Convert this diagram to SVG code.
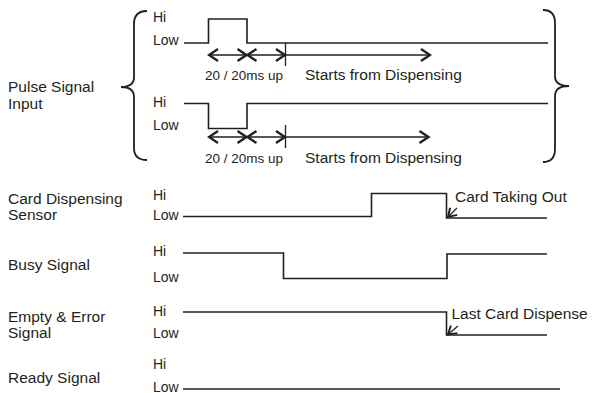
<svg xmlns="http://www.w3.org/2000/svg" width="592" height="393" viewBox="0 0 592 393">
<defs>
<style>
.t{font-family:"Liberation Sans",Arial,Helvetica,sans-serif;font-size:15.5px;fill:#231f20}
.hl{font-family:"Liberation Sans",Arial,Helvetica,sans-serif;font-size:14px;fill:#231f20}
.sm{font-family:"Liberation Sans",Arial,Helvetica,sans-serif;font-size:13.5px;fill:#231f20}
.w{fill:none;stroke:#231f20;stroke-width:1.6}
.br{fill:none;stroke:#231f20;stroke-width:1.8}
.ar{fill:none;stroke:#231f20;stroke-width:1.3}
</style>
<marker id="ah" viewBox="-12 -8 14 16" refX="0" refY="0" markerWidth="14" markerHeight="16" markerUnits="userSpaceOnUse" orient="auto-start-reverse">
<path d="M-9,-6 L0,0 L-9,6" fill="none" stroke="#231f20" stroke-width="2.4"/>
</marker>
<marker id="ahs" viewBox="-10 -7 12 14" refX="0" refY="0" markerWidth="12" markerHeight="14" markerUnits="userSpaceOnUse" orient="auto">
<path d="M-8,-5 L0,0 L-8,5" fill="none" stroke="#231f20" stroke-width="2"/>
</marker>
</defs>
<rect width="592" height="393" fill="#fff"/>

<g id="pulse-input">
<text class="t" x="8" y="92">Pulse Signal</text>
<text class="t" x="8" y="109">Input</text>
<path class="br" d="M147,11 Q134,11 134,24 L134,77 Q134,87 121,87 Q134,87 134,97 L134,148 Q134,160 147,160"/>
<path class="br" d="M543,10 Q555,10 555,23 L555,76 Q555,86 569,86 Q555,86 555,96 L555,149 Q555,162 543,162"/>
</g>

<g id="pulse-1">
<text class="hl" x="153" y="22">Hi</text>
<text class="hl" x="153" y="45">Low</text>
<path class="w" d="M184,43 H208.5 V19 H247 V43 H548"/>
<text class="sm" x="205" y="80">20 / 20ms up</text>
<text class="t" x="305" y="80">Starts from Dispensing</text>
</g>

<g id="pulse-2">
<text class="hl" x="153" y="107">Hi</text>
<text class="hl" x="153" y="130">Low</text>
<path class="w" d="M184,103.5 H208.5 V128.5 H247 V103.5 H548"/>
<text class="sm" x="205" y="163">20 / 20ms up</text>
<text class="t" x="305" y="163">Starts from Dispensing</text>
</g>

<g id="card-sensor">
<text class="t" x="8" y="204">Card Dispensing</text>
<text class="t" x="8" y="220">Sensor</text>
<text class="hl" x="153" y="200">Hi</text>
<text class="hl" x="153" y="220">Low</text>
<path class="w" d="M183,216.5 H371.5 V193.5 H446.5 V218 H547"/>
<text class="t" x="455" y="202">Card Taking Out</text>
</g>

<g id="busy-signal">
<text class="t" x="8" y="270">Busy Signal</text>
<text class="hl" x="153" y="256">Hi</text>
<text class="hl" x="153" y="282">Low</text>
<path class="w" d="M183,253 H283.5 V278.5 H447 V254 H547"/>
</g>

<g id="empty-error">
<text class="t" x="8" y="322">Empty &amp; Error</text>
<text class="t" x="8" y="338">Signal</text>
<text class="hl" x="153" y="316">Hi</text>
<text class="hl" x="153" y="338">Low</text>
<path class="w" d="M183,312 H446.5 V335 H547"/>
<text class="t" x="451.5" y="318.5">Last Card Dispense</text>
</g>

<g id="ready-signal">
<text class="t" x="8" y="383">Ready Signal</text>
<text class="hl" x="153" y="369">Hi</text>
<text class="hl" x="153" y="392">Low</text>
<path class="w" d="M183,389 H560"/>
</g>

<g id="connectors">
<line class="ar" x1="209" y1="55" x2="246.5" y2="55" marker-start="url(#ah)" marker-end="url(#ah)"/>
<line class="ar" x1="247.5" y1="55" x2="285" y2="55" marker-start="url(#ah)" marker-end="url(#ah)"/>
<line class="ar" x1="285.5" y1="43" x2="285.5" y2="66"/>
<line class="ar" x1="285.5" y1="55" x2="430" y2="55" marker-end="url(#ah)"/>
<line class="ar" x1="209" y1="137" x2="246.5" y2="137" marker-start="url(#ah)" marker-end="url(#ah)"/>
<line class="ar" x1="247.5" y1="137" x2="285" y2="137" marker-start="url(#ah)" marker-end="url(#ah)"/>
<line class="ar" x1="285.5" y1="125" x2="285.5" y2="148"/>
<line class="ar" x1="285.5" y1="137" x2="428.5" y2="137" marker-end="url(#ah)"/>
<line class="ar" x1="457" y1="208" x2="448" y2="217" marker-end="url(#ahs)"/>
<line class="ar" x1="458" y1="326" x2="448" y2="334.5" marker-end="url(#ahs)"/>
</g>
</svg>
